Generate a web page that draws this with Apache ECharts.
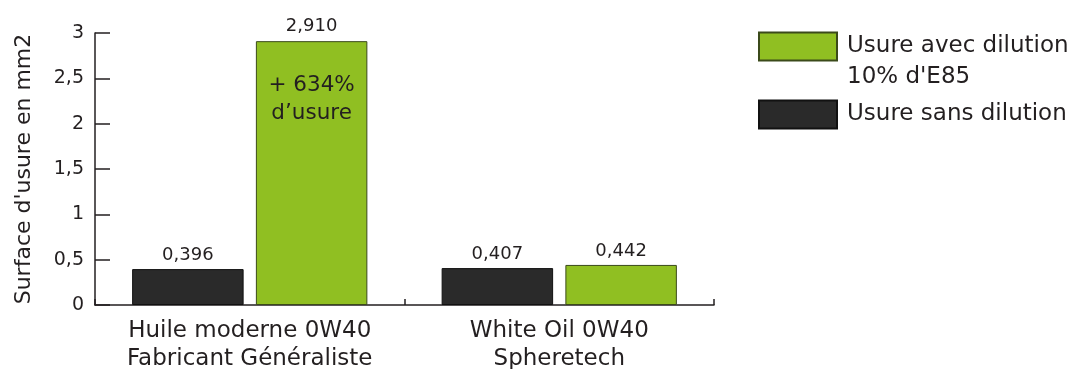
<!DOCTYPE html>
<html><head><meta charset="utf-8">
<script src="https://cdn.jsdelivr.net/npm/echarts@6/dist/echarts.min.js"></script>
<style>html,body{margin:0;padding:0;background:#fff}#c{width:1075px;height:369px}</style>
</head><body><div id="c"></div>
<script>
const categories = ['Huile moderne 0W40\nFabricant Généraliste', 'White Oil 0W40\nSpheretech'];
const sansDilution = [0.396, 0.407];
const avecDilution = [2.910, 0.442];
const yTicks = { min: 0, max: 3, interval: 0.5 };
const seriesNames = ['Usure sans dilution', 'Usure avec dilution'];
const legendLines = ['Usure avec dilution', '10% d\'E85'];
const annotation = ['+ 634%', 'd’usure'];

const FONT = 'DejaVu Sans';
const INK = '#231f20';
const fmt = v => v.toFixed(3).replace('.', ',');

const chart = echarts.init(document.getElementById('c'));
const greenData = avecDilution.map((v, i) => i === 0 ? {
  value: v,
  label: {
    position: 'insideTop', distance: 0, offset: [0, -30],
    formatter: p => '{v|' + fmt(p.value) + '}\n{s| }\n{p|' + annotation[0] + '}\n{p|' + annotation[1] + '}',
    rich: {
      v: { fontSize: 18, lineHeight: 30, color: INK, fontFamily: FONT },
      s: { fontSize: 10, lineHeight: 30 },
      p: { fontSize: 21.5, lineHeight: 28, color: INK, fontFamily: FONT }
    }
  }
} : v);

chart.setOption({
  animation: false,
  textStyle: { fontFamily: FONT },
  grid: { left: 95, right: 361, top: 33, bottom: 64, outerBoundsMode: 'none', containLabel: false },
  legend: [
    {
      data: [seriesNames[1]], left: 758, top: 0, padding: 0, icon: 'rect',
      itemWidth: 78, itemHeight: 28,
      formatter: () => '\n' + legendLines[0] + '\n' + legendLines[1],
      textStyle: { fontSize: 23, lineHeight: 31, color: INK, fontFamily: FONT, padding: [0, 0, 0, 5] }
    },
    {
      data: [seriesNames[0]], left: 758, top: 99, padding: 0, icon: 'rect',
      itemWidth: 78, itemHeight: 28,
      textStyle: { fontSize: 23, lineHeight: 31, color: INK, fontFamily: FONT, padding: [0, 0, 0, 5] }
    }
  ],
  xAxis: {
    type: 'category', data: categories,
    axisLine: { lineStyle: { color: INK, width: 1.5 } },
    axisTick: { show: true, inside: true, length: 6, interval: 0, lineStyle: { color: INK, width: 1.5 } },
    axisLabel: { fontSize: 23, lineHeight: 28, color: INK, margin: 12, fontFamily: FONT,
      interval: 0, hideOverlap: false }
  },
  yAxis: {
    type: 'value', min: yTicks.min, max: yTicks.max, interval: yTicks.interval,
    name: 'Surface d\'usure en mm2', nameLocation: 'middle', nameGap: 60,
    nameTextStyle: { fontSize: 22, color: INK, fontFamily: FONT },
    splitLine: { show: false },
    axisLine: { show: true, lineStyle: { color: INK, width: 1.5 } },
    axisTick: { show: true, inside: true, length: 15, lineStyle: { color: INK, width: 1.5 } },
    axisLabel: { fontSize: 19, color: INK, margin: 11, fontFamily: FONT,
      formatter: v => String(v).replace('.', ',') }
  },
  series: [
    {
      name: seriesNames[0], type: 'bar', data: sansDilution,
      barGap: '11%', barCategoryGap: '24%',
      itemStyle: { color: '#2a2a2a', borderColor: '#111', borderWidth: 1 },
      label: { show: true, position: 'top', distance: 5, fontSize: 18, color: INK, fontFamily: FONT,
        formatter: p => fmt(p.value) }
    },
    {
      name: seriesNames[1], type: 'bar', data: greenData,
      barGap: '11%', barCategoryGap: '24%',
      itemStyle: { color: '#90bf22', borderColor: '#3b4a1a', borderWidth: 1 },
      label: { show: true, position: 'top', distance: 5, fontSize: 18, color: INK, fontFamily: FONT,
        formatter: p => fmt(p.value) }
    }
  ]
});
</script></body></html>
